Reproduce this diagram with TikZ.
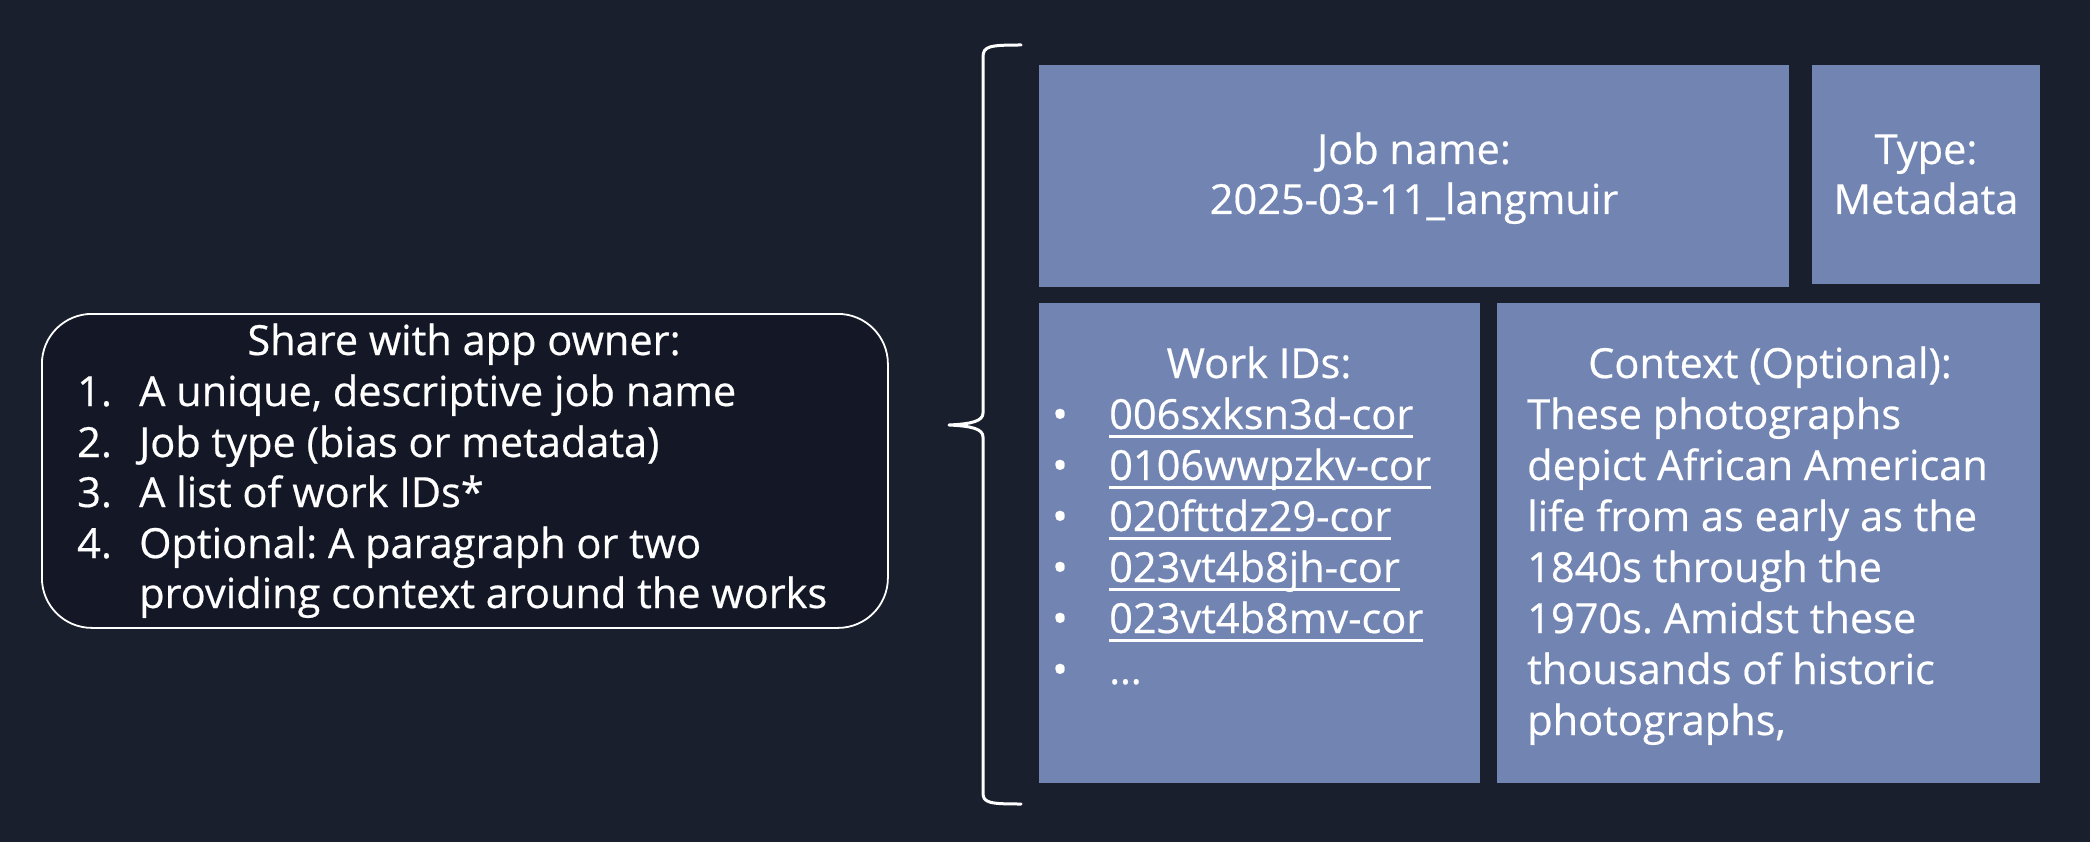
\documentclass[tikz,border=0pt]{standalone}
\usepackage{fontspec}
\setmainfont{Open Sans}[FakeBold=0.5]
\newfontfamily\tilefont{Open Sans}
\definecolor{bg}{HTML}{1A1F2D}
\definecolor{boxbg}{HTML}{141826}
\definecolor{tile}{HTML}{7184B2}
\frenchspacing
\newcommand\ulink[1]{\setbox0\hbox{#1}\rlap{\rule[-9pt]{\wd0}{3.5pt}}\box0}
\tikzset{
  tile/.style={fill=tile, draw=none, inner sep=0pt, anchor=north west},
  txt/.style={text=white, inner sep=0pt, font=\fontsize{41.5pt}{51pt}\selectfont\frenchspacing},
  bracepath/.style={draw=white, line width=3pt, line cap=round, line join=round},
}
\begin{document}
\begin{tikzpicture}[x=1pt,y=-1pt]
\fill[bg] (0,0) rectangle (2090,842);
\useasboundingbox (0,0) rectangle (2090,842);

% left rounded box
\node[draw=white, line width=1.8pt, fill=boxbg, rounded corners=50pt,
      minimum width=846pt, minimum height=314pt, anchor=north west, inner sep=0pt] (share) at (41,313) {};
\node[txt, anchor=base] (title) at (464,355) {Share with app owner:};
\foreach \n/\y/\t in {1/406/{A unique, descriptive job name},
                      2/457/{Job type (bias or metadata)},
                      3/507/{A list of work IDs*},
                      4/558/{Optional: A paragraph or two}}{
  \node[txt, anchor=base west] (num\n) at (77,\y) {\n.};
  \node[txt, anchor=base west] (item\n) at (139,\y) {\t};
}
\node[txt, anchor=base west] (item5) at (139,608) {providing context around the works};

% brace
\draw[bracepath] (1021,45) .. controls (990,45) and (983,46) .. (983,57)
  -- (983,413) .. controls (983,421) and (972,424) .. (949,425)
  .. controls (972,426) and (983,429) .. (983,437)
  -- (983,793) .. controls (983,803) and (990,804) .. (1021,804);

% tiles
\node[tile, minimum width=750pt, minimum height=222pt] (job) at (1039,65) {};
\node[tile, minimum width=228pt, minimum height=219pt] (type) at (1812,65) {};
\node[tile, minimum width=441pt, minimum height=480pt] (ids) at (1039,303) {};
\node[tile, minimum width=543pt, minimum height=480pt] (ctx) at (1497,303) {};

\node[txt, anchor=base] (jobl1) at (1414,164) {Job name:};
\node[txt, anchor=base] (jobl2) at (1414,214) {2025-03-11\_langmuir};
\node[txt, anchor=base] (typel1) at (1926,164) {Type:};
\node[txt, anchor=base] (typel2) at (1926,214) {Metadata};

\node[txt, anchor=base] (idsh) at (1259,378) {Work IDs:};
\foreach \k/\t in {1/006sxksn3d-cor, 2/0106wwpzkv-cor, 3/020fttdz29-cor, 4/023vt4b8jh-cor, 5/023vt4b8mv-cor}{
  \node[txt, anchor=base west] (bul\k) at (1052,378+51*\k) {•};
  \node[txt, anchor=base west] (id\k) at (1109,378+51*\k) {\ulink{\t}};
}
\node[txt, anchor=base west] (bul6) at (1052,684) {•};
\node[txt, anchor=base west] (id6) at (1109,684) {…};

\node[txt, anchor=base] (ctxh) at (1770,378) {Context (Optional):};
\foreach \k/\t in {1/{These photographs}, 2/{depict African American}, 3/{life from as early as the},
                   4/{1840s through the}, 5/{1970s. Amidst these}, 6/{thousands of historic}, 7/{photographs,}}{
  \node[txt, anchor=base west] (ctx\k) at (1527,378+51*\k) {\t};
}
\end{tikzpicture}
\end{document}
